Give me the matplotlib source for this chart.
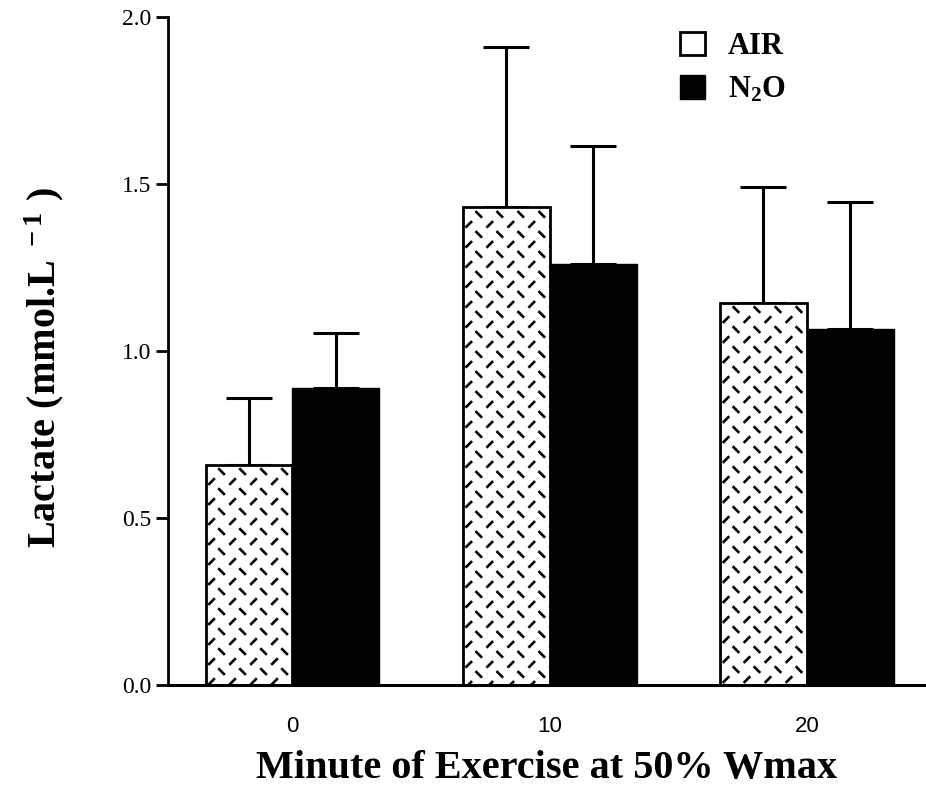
import numpy as np
import matplotlib
matplotlib.use("Agg")
import matplotlib.pyplot as plt
from matplotlib.collections import LineCollection

plt.rcParams['mathtext.fontset'] = 'custom'
plt.rcParams['mathtext.rm'] = 'Liberation Serif:bold'
plt.rcParams['mathtext.bf'] = 'Liberation Serif:bold'
plt.rcParams['mathtext.it'] = 'Liberation Serif:bold'

# Lactate during exercise, mean and SD
minutes = ["0", "10", "20"]
air_mean = [0.66, 1.43, 1.145]
air_sd = [0.20, 0.48, 0.345]
n2o_mean = [0.89, 1.26, 1.065]
n2o_sd = [0.165, 0.355, 0.38]

fig = plt.figure(figsize=(9.26, 7.97), dpi=100)
ax = fig.add_axes([168 / 926, 112 / 797, 1 - 168 / 926, 668 / 797])

x = np.arange(len(minutes))
w = 0.338
err_kw = dict(ecolor='black', elinewidth=2.2, capsize=16.5, capthick=2.2)

air_bars = ax.bar(x - w / 2, air_mean, w, color='white', edgecolor='black',
                  linewidth=2.0, label='AIR', zorder=2)
ax.errorbar(x - w / 2, air_mean, yerr=[np.zeros(3), air_sd], fmt='none', zorder=1, **err_kw)
n2o_bars = ax.bar(x + w / 2, n2o_mean, w, color='black', edgecolor='black',
                  linewidth=1.0, label='N$_{2}$O', zorder=2)
ax.errorbar(x + w / 2, n2o_mean, yerr=[np.zeros(3), n2o_sd], fmt='none', zorder=1, **err_kw)

ax.set_xlim(-0.484, 2.463)
ax.set_ylim(0, 2.0)

# dashed screen-tone texture inside the AIR bars
inv = ax.transData.inverted()
for bar in air_bars:
    (x0, y0), (x1, y1) = ax.transData.transform([(bar.get_x(), 0),
                                                 (bar.get_x() + bar.get_width(), bar.get_height())])
    segs = []
    row = 0
    yy = y1 - 7
    while yy > y0 - 4:
        back = row % 2 == 0
        xx = x0 + (16 if back else 6)
        while xx < x1 + 4:
            d = 3.3
            if back:
                p, q = (xx - d, yy + d), (xx + d, yy - d)
            else:
                p, q = (xx - d, yy - d), (xx + d, yy + d)
            segs.append(inv.transform([p, q]))
            xx += 21
        yy -= 10
        row += 1
    lc = LineCollection(segs, colors='black', linewidths=1.9, zorder=3, capstyle='butt')
    ax.add_collection(lc)
    lc.set_clip_path(bar)

for s in ['top', 'right']:
    ax.spines[s].set_visible(False)
ax.spines['left'].set_linewidth(2.0)
ax.spines['bottom'].set_linewidth(2.2)

ax.set_yticks([0, 0.5, 1.0, 1.5, 2.0])
ax.set_yticklabels(['0.0', '0.5', '1.0', '1.5', '2.0'], fontfamily='Liberation Serif', fontsize=17)
ax.tick_params(axis='y', direction='out', length=9, width=2.0, pad=3)
ax.set_xticks(x)
ax.set_xticklabels(minutes, fontfamily=['Liberation Sans Narrow', 'Liberation Sans'], fontsize=16)
ax.tick_params(axis='x', length=0, pad=22)

ax.set_xlabel('Minute of Exercise at 50% Wmax', fontfamily='Liberation Serif',
              fontweight='bold', fontsize=29)
ax.xaxis.set_label_coords(0.5, -0.097)
ax.set_ylabel('Lactate (mmol.L$^{\\ -1}$ )', fontfamily='Liberation Serif',
              fontweight='bold', fontsize=29)
ax.yaxis.set_label_coords(-0.135, 0.475)

leg = ax.legend(loc='upper left', bbox_to_anchor=(0.675, 0.978), frameon=False,
                borderpad=0, borderaxespad=0,
                prop={'family': 'Liberation Serif', 'weight': 'bold', 'size': 22},
                handlelength=0.82, handleheight=0.82, handletextpad=0.75, labelspacing=0.45)

fig.savefig('out.png', dpi=100)
